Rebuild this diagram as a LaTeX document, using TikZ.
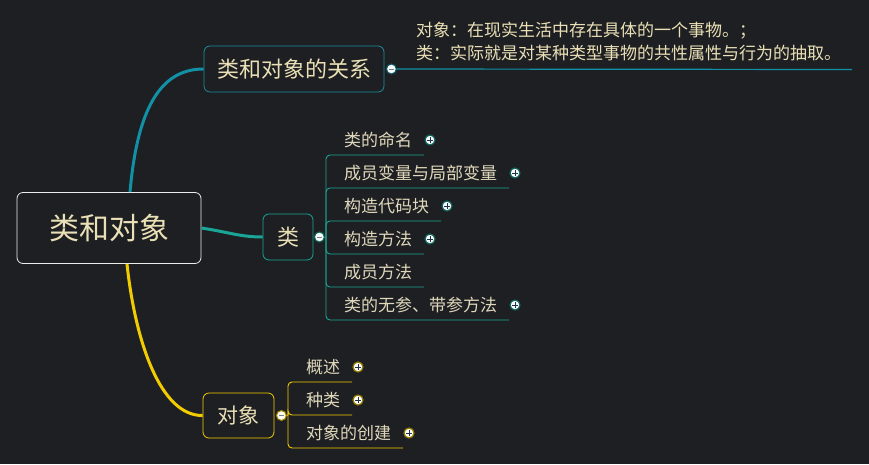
\documentclass[tikz,border=0pt]{standalone}
\usepackage{fontspec}
\setmainfont{Noto Sans CJK SC}
\usetikzlibrary{positioning,calc}

\definecolor{bg}{HTML}{1E1F22}
\definecolor{txt}{HTML}{EAE0B6}
\definecolor{leaftxt}{HTML}{E0D8BC}
\definecolor{tealA}{HTML}{1190A6}
\definecolor{tealB}{HTML}{1AA696}
\definecolor{boxA}{HTML}{1B8E9C}
\definecolor{gold}{HTML}{F0CC00}
\definecolor{signc}{HTML}{23324A}

\begin{document}
\begin{tikzpicture}[x=1pt,y=-1pt,
  topic/.style={draw=#1, fill=bg, rounded corners=6pt, line width=0.8pt,
    inner sep=0pt, text=txt},
  leaf/.style={anchor=south west, inner xsep=12pt, inner ysep=0pt,
    text depth=9pt, outer sep=0pt, text=leaftxt,
    font=\fontsize{17}{19}\selectfont},
  plus/.style={circle, minimum size=10pt, inner sep=0pt, draw=#1!60!black,
    line width=1.2pt, fill=#1!5!white,
    path picture={\draw[line width=1pt, signc]
      ([xshift=-2.6pt]path picture bounding box.center) -- ([xshift=2.6pt]path picture bounding box.center)
      ([yshift=-2.6pt]path picture bounding box.center) -- ([yshift=2.6pt]path picture bounding box.center);}},
  minus/.style={circle, minimum size=10pt, inner sep=0pt, draw=#1!60!black,
    line width=1.1pt, fill=#1!5!white,
    path picture={\draw[line width=0.9pt, gray]
      ([xshift=-2.4pt]path picture bounding box.center) -- ([xshift=2.4pt]path picture bounding box.center);}},
  stem/.style={draw=#1, line width=0.9pt, rounded corners=4pt}]

\useasboundingbox[fill=bg] (0,0) rectangle (869,464);

% topics
\node[topic=white!85!gray, minimum width=184pt, minimum height=71pt,
  font=\fontsize{30}{34}\selectfont] (root) at (109,228) {类和对象};
\node[topic=boxA, minimum width=180pt, minimum height=46pt,
  font=\fontsize{22}{24}\selectfont] (rel) at (294,69) {类和对象的关系};
\node[topic=tealB, minimum width=50pt, minimum height=46pt,
  font=\fontsize{22}{24}\selectfont] (cls) at (288,237) {类};
\node[topic=gold, minimum width=71pt, minimum height=45pt,
  font=\fontsize{21}{24}\selectfont] (obj) at (238.5,415.5) {对象};

% main branches
\draw[tealA, line width=3pt] ([xshift=21pt]root.north)
  .. controls (138,100) and (165,69) .. (rel.west);
\draw[tealB, line width=3pt] (root.east)
  .. controls (228,232) and (240,237) .. (cls.west);
\draw[gold, line width=3pt] ([xshift=18pt]root.south)
  .. controls (135,340) and (160,416) .. (obj.west);

% relation note
\node[minus=boxA] (c1) at ([xshift=7pt]rel.east) {};
\coordinate (noteend) at (852,69.5);
\draw[tealA, line width=1.2pt] (c1.east) -- (noteend);
\node[anchor=north west, align=left, inner sep=0pt, text=txt,
  font=\fontsize{17}{23}\selectfont] (note) at (416,22)
  {对象：在现实生活中存在具体的一个事物。；\\类：实际就是对某种类型事物的共性属性与行为的抽取。};

% class children
\node[minus=tealB] (c2) at ([xshift=6pt]cls.east) {};
\coordinate (br2) at (326,237);
\draw[stem=tealB] (c2.east) -- (br2);
\node[leaf] (naming) at (332,155) {类的命名};
\node[leaf] (vars)   at (332,188) {成员变量与局部变量};
\node[leaf] (block)  at (332,221) {构造代码块};
\node[leaf] (ctor)   at (332,254) {构造方法};
\node[leaf] (meth)   at (332,287) {成员方法};
\node[leaf] (param)  at (332,320) {类的无参、带参方法};
\foreach \n in {naming,vars,block,ctor,meth,param}
  \draw[stem=tealB] (br2) |- (\n.south east);
\foreach \n in {naming,vars,block,ctor,param}
  \node[plus=tealB] at ([xshift=6pt,yshift=15pt]\n.south east) {};

% object children
\node[minus=gold] (c3) at ([xshift=7pt]obj.east) {};
\coordinate (br3) at (288,415);
\draw[stem=gold] (c3.east) -- (br3);
\node[leaf] (intro)  at (294,382) {概述};
\node[leaf] (kinds)  at (294,415) {种类};
\node[leaf] (create) at (294,448) {对象的创建};
\foreach \n in {intro,kinds,create}
  \draw[stem=gold] (br3) |- (\n.south east);
\foreach \n in {intro,kinds,create}
  \node[plus=gold] at ([xshift=6pt,yshift=15pt]\n.south east) {};
\end{tikzpicture}
\end{document}
